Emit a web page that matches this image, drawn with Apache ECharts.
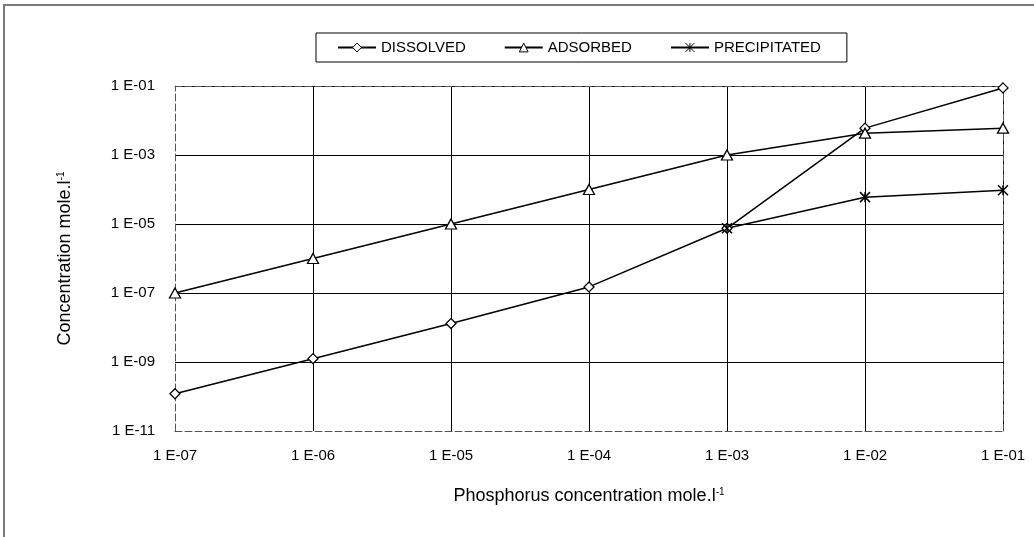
<!DOCTYPE html>
<html>
<head>
<meta charset="utf-8">
<script src="https://cdn.jsdelivr.net/npm/echarts@6/dist/echarts.min.js"></script>
<style>
  html, body { margin: 0; padding: 0; background: #fff; }
  #chart { width: 1034px; height: 537px; }
  #frame { position: absolute; left: 3px; top: 4px; width: 1040px; height: 540px;
           border-top: 2px solid #7a7a7a; border-left: 2px solid #7a7a7a; pointer-events: none; }
</style>
</head>
<body>
<div id="chart"></div>
<div id="frame"></div>
<script>
// Phosphorus concentration (mole/l) – x values
const phosphorus = [1e-7, 1e-6, 1e-5, 1e-4, 1e-3, 1e-2, 1e-1];
// Series values (mole/l)
const dissolved    = [1.2e-10, 1.25e-9, 1.3e-8, 1.5e-7, 7.5e-6, 6.0e-3, 8.8e-2];
const adsorbed     = [1e-7, 1e-6, 1e-5, 1e-4, 1e-3, 4.3e-3, 6.0e-3];
const precipitated = [null, null, null, null, 7.5e-6, 6.0e-5, 9.5e-5];
const seriesNames  = ['DISSOLVED', 'ADSORBED', 'PRECIPITATED'];
// Axis settings
const xMin = 1e-7, xMax = 1e-1;
const yMin = 1e-11, yMax = 1e-1;

function sci(v) {
  const e = Math.round(Math.log10(v));
  const s = e < 0 ? '-' : '+';
  const a = Math.abs(e);
  return '1 E' + s + (a < 10 ? '0' + a : '' + a);
}
function pairs(ys) {
  const out = [];
  phosphorus.forEach((x, i) => { if (ys[i] != null) out.push([x, ys[i]]); });
  return out;
}

const FONT = 'Liberation Sans, Arial, sans-serif';
const chart = echarts.init(document.getElementById('chart'), null, { renderer: 'canvas' });

const dashed = { color: '#555', width: 1, type: [7, 3] };
const supStyle = { fontSize: 10, verticalAlign: 'top', lineHeight: 10, fontFamily: FONT, color: '#000' };

chart.setOption({
  animation: false,
  backgroundColor: '#fff',
  textStyle: { fontFamily: FONT, color: '#000' },
  legend: {
    data: seriesNames,
    left: 316, top: 33,
    padding: [7, 26, 7, 21],
    itemWidth: 38, itemHeight: 11, itemGap: 38,
    borderColor: '#000', borderWidth: 1,
    itemStyle: { borderWidth: 1 },
    textStyle: { fontFamily: FONT, fontSize: 15, color: '#000' }
  },
  grid: { left: 175, right: 31, top: 86, bottom: 106, show: false },
  xAxis: [{
    type: 'log', logBase: 10, min: xMin, max: xMax, interval: 1,
    name: 'Phosphorus concentration mole.l{sup|-1}',
    nameLocation: 'middle', nameGap: 56,
    nameTextStyle: { fontFamily: FONT, fontSize: 18, color: '#000', rich: { sup: supStyle } },
    axisLine: { show: true, lineStyle: dashed },
    axisTick: { show: false },
    minorTick: { show: false },
    axisLabel: { formatter: sci, fontFamily: FONT, fontSize: 15, color: '#000', margin: 17 },
    splitLine: { show: true, showMinLine: false, showMaxLine: false, lineStyle: { color: '#000', width: 1 } }
  }, {
    type: 'log', logBase: 10, min: xMin, max: xMax, position: 'top',
    axisLine: { show: true, lineStyle: dashed },
    axisTick: { show: false }, axisLabel: { show: false }, splitLine: { show: false }
  }],
  yAxis: [{
    type: 'log', logBase: 10, min: yMin, max: yMax, interval: 2,
    name: 'Concentration mole.l{sup|-1}',
    nameLocation: 'middle', nameGap: 101, nameRotate: 90,
    nameTextStyle: { fontFamily: FONT, fontSize: 18, color: '#000', rich: { sup: supStyle } },
    axisLine: { show: true, lineStyle: dashed },
    axisTick: { show: false },
    minorTick: { show: false },
    axisLabel: { formatter: sci, fontFamily: FONT, fontSize: 15, color: '#000', margin: 20 },
    splitLine: { show: true, showMinLine: false, showMaxLine: false, lineStyle: { color: '#000', width: 1 } }
  }, {
    type: 'log', logBase: 10, min: yMin, max: yMax, position: 'right',
    axisLine: { show: true, lineStyle: dashed },
    axisTick: { show: false }, axisLabel: { show: false }, splitLine: { show: false }
  }],
  series: [{
    name: seriesNames[0], type: 'line', data: pairs(dissolved),
    symbol: 'diamond', symbolSize: 10,
    lineStyle: { color: '#000', width: 1.5 },
    itemStyle: { color: '#fff', borderColor: '#000', borderWidth: 1.3 }
  }, {
    name: seriesNames[1], type: 'line', data: pairs(adsorbed),
    symbol: 'triangle', symbolSize: [11, 10],
    lineStyle: { color: '#000', width: 1.5 },
    itemStyle: { color: '#fff', borderColor: '#000', borderWidth: 1.3 }
  }, {
    name: seriesNames[2], type: 'line', data: pairs(precipitated),
    symbol: 'path://M0,0L10,10M10,0L0,10M5,0L5,10', symbolSize: 10,
    lineStyle: { color: '#000', width: 1.5 },
    itemStyle: { color: '#000', borderColor: '#000', borderWidth: 1.5 }
  }]
});
</script>
</body>
</html>
